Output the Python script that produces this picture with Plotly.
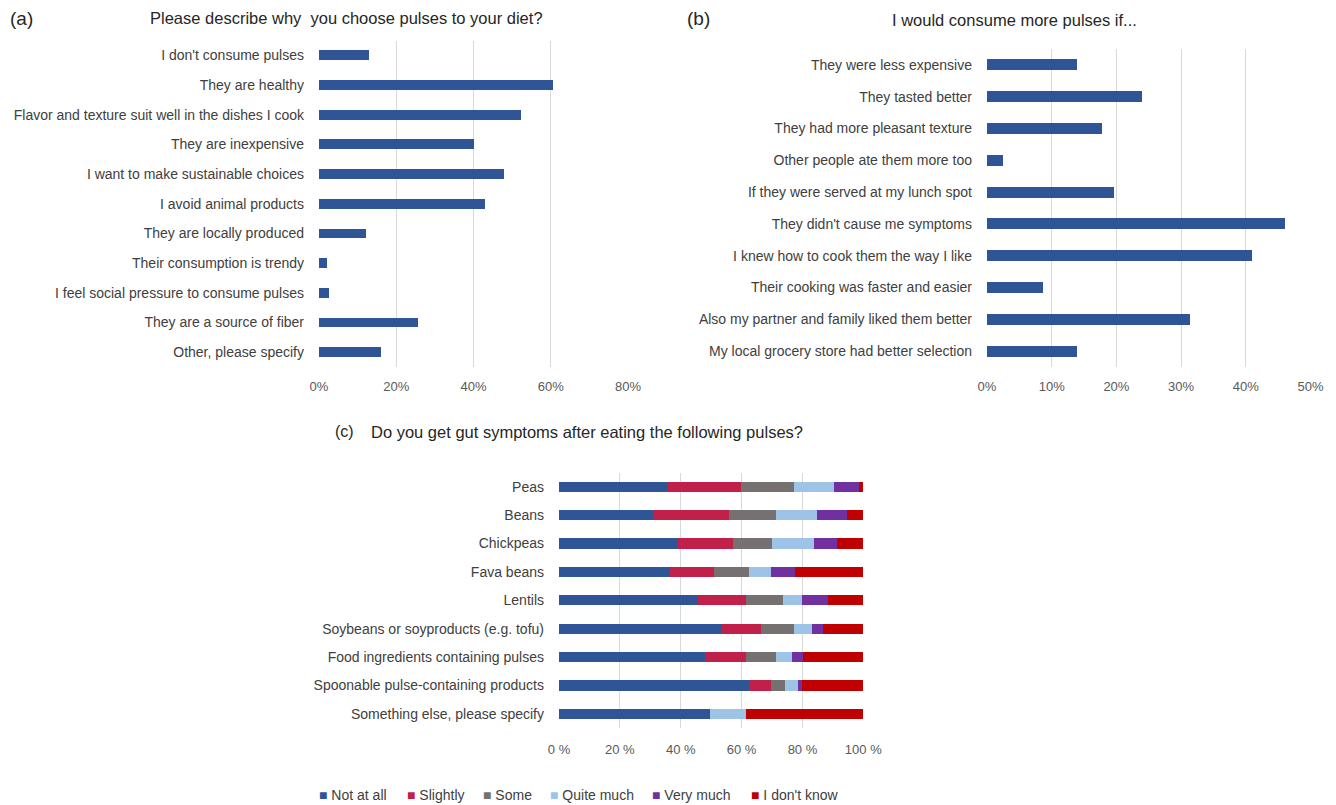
import plotly.graph_objects as go

# ---------------- data ----------------
a_labels = ["I don't consume pulses", "They are healthy",
            "Flavor and texture suit well in the dishes I cook", "They are inexpensive",
            "I want to make sustainable choices", "I avoid animal products",
            "They are locally produced", "Their consumption is trendy",
            "I feel social pressure to consume pulses", "They are a source of fiber",
            "Other, please specify"]
a_values = [13.0, 60.5, 52.2, 40.2, 48.0, 43.1, 12.1, 2.0, 2.5, 25.7, 16.0]
a_ticks = [0, 20, 40, 60, 80]
a_ticktext = ["0%", "20%", "40%", "60%", "80%"]

b_labels = ["They were less expensive", "They tasted better", "They had more pleasant texture",
            "Other people ate them more too", "If they were served at my lunch spot",
            "They didn't cause me symptoms", "I knew how to cook them the way I like",
            "Their cooking was faster and easier", "Also my partner and family liked them better",
            "My local grocery store had better selection"]
b_values = [13.9, 24.0, 17.8, 2.4, 19.6, 46.1, 40.9, 8.6, 31.3, 13.9]
b_ticks = [0, 10, 20, 30, 40, 50]
b_ticktext = ["0%", "10%", "20%", "30%", "40%", "50%"]

c_labels = ["Peas", "Beans", "Chickpeas", "Fava beans", "Lentils",
            "Soybeans or soyproducts (e.g. tofu)", "Food ingredients containing pulses",
            "Spoonable pulse-containing products", "Something else, please specify"]
c_series = ["Not at all", "Slightly", "Some", "Quite much", "Very much", "I don't know"]
c_not_at_all = [35.7, 31.0, 39.1, 36.5, 45.6, 53.2, 48.1, 62.4, 49.7]
c_slightly   = [24.1, 24.8, 18.1, 14.4, 16.0, 13.1, 13.5, 7.4, 0.0]
c_some       = [17.3, 15.5, 12.7, 11.5, 12.0, 10.8, 9.6, 4.4, 0.0]
c_quite_much = [13.2, 13.5, 14.0, 7.4, 6.2, 6.1, 5.5, 4.4, 11.9]
c_very_much  = [8.4, 9.9, 7.4, 7.9, 8.5, 3.7, 3.6, 1.2, 0.0]
c_dont_know  = [1.3, 5.3, 8.7, 22.3, 11.7, 13.1, 19.7, 20.2, 38.4]
c_ticks = [0, 20, 40, 60, 80, 100]
c_ticktext = ["0 %", "20 %", "40 %", "60 %", "80 %", "100 %"]

# ---------------- styles ----------------
W, H = 1336, 805
BLUE = "#2F5597"
c_colors = ["#2F5597", "#C0204A", "#767171", "#9DC3E6", "#7030A0", "#C00000"]
FONT = "Liberation Sans"
LABEL_COLOR = "#404040"
TICK_COLOR = "#595959"
TITLE_COLOR = "#262626"
GRID = "#D9D9D9"

def px(x):
    return x / W

def py(y):
    return 1 - y / H

fig = go.Figure()
fig.add_trace(go.Bar(y=a_labels, x=a_values, orientation="h", xaxis="x", yaxis="y",
                     marker=dict(color=BLUE), width=0.33, showlegend=False))
fig.add_trace(go.Bar(y=b_labels, x=b_values, orientation="h", xaxis="x2", yaxis="y2",
                     marker=dict(color=BLUE), width=0.35, showlegend=False))
c_data = [c_not_at_all, c_slightly, c_some, c_quite_much, c_very_much, c_dont_know]
for name, vals, col in zip(c_series, c_data, c_colors):
    fig.add_trace(go.Bar(y=c_labels, x=vals, orientation="h", xaxis="x3", yaxis="y3",
                         name=name, marker=dict(color=col), width=0.36, showlegend=False))

def xax(domain, anchor, rng, tv, tt, standoff):
    return dict(domain=domain, anchor=anchor, range=rng, tickvals=tv, ticktext=tt,
                showgrid=True, gridcolor=GRID, gridwidth=1, zeroline=False, showline=False,
                ticks="", ticklabelstandoff=standoff, automargin=False,
                tickfont=dict(family=FONT, size=13, color=TICK_COLOR),
                fixedrange=True)

def yax(domain, anchor, cats):
    return dict(domain=domain, anchor=anchor, type="category", categoryorder="array",
                categoryarray=cats, range=[len(cats) - 0.5, -0.5], showgrid=False,
                zeroline=False, showline=False, ticks="", ticklabelstandoff=14,
                automargin=False,
                tickfont=dict(family=FONT, size=14, color=LABEL_COLOR), fixedrange=True)

annotations = [
    dict(text="(a)", x=px(8), y=py(18), xanchor="left", yanchor="middle",
         font=dict(family=FONT, size=19, color=TITLE_COLOR)),
    dict(text="Please describe why  you choose pulses to your diet?", x=px(346), y=py(18),
         xanchor="center", yanchor="middle", font=dict(family=FONT, size=16.5, color=TITLE_COLOR)),
    dict(text="(b)", x=px(685), y=py(18), xanchor="left", yanchor="middle",
         font=dict(family=FONT, size=19, color=TITLE_COLOR)),
    dict(text="I would consume more pulses if...", x=px(1014), y=py(20),
         xanchor="center", yanchor="middle", font=dict(family=FONT, size=16.5, color=TITLE_COLOR)),
    dict(text="(c)", x=px(333), y=py(432), xanchor="left", yanchor="middle",
         font=dict(family=FONT, size=16, color=TITLE_COLOR)),
    dict(text="Do you get gut symptoms after eating the following pulses?", x=px(369), y=py(432),
         xanchor="left", yanchor="middle", font=dict(family=FONT, size=16.5, color=TITLE_COLOR)),
]

# legend for panel (c), drawn as text
legend_x = [317, 405, 481, 548, 650, 749]
for name, col, lx in zip(c_series, c_colors, legend_x):
    annotations.append(dict(
        text=f"<span style='color:{col}'>■</span> {name}", x=px(lx), y=py(795),
        xanchor="left", yanchor="middle",
        font=dict(family=FONT, size=14, color=LABEL_COLOR)))

for an in annotations:
    an["showarrow"] = False
    an["xref"] = "paper"
    an["yref"] = "paper"

fig.update_layout(
    template="none",
    width=W, height=H, autosize=False,
    margin=dict(l=0, r=0, t=0, b=0, pad=0),
    paper_bgcolor="white", plot_bgcolor="white",
    barmode="stack", showlegend=False,
    font=dict(family=FONT, size=13, color=LABEL_COLOR),
    xaxis=xax([px(319), px(628)], "y", [0, 80], a_ticks, a_ticktext, 10),
    yaxis=yax([py(367), py(40.5)], "x", a_labels),
    xaxis2=xax([px(987), px(1310.5)], "y2", [0, 50], b_ticks, b_ticktext, 10),
    yaxis2=yax([py(367), py(49)], "x2", b_labels),
    xaxis3=xax([px(559), px(863.3)], "y3", [0, 100], c_ticks, c_ticktext, 12),
    yaxis3=yax([py(728), py(472.5)], "x3", c_labels),
    annotations=annotations,
)

fig.write_html("out.html")
